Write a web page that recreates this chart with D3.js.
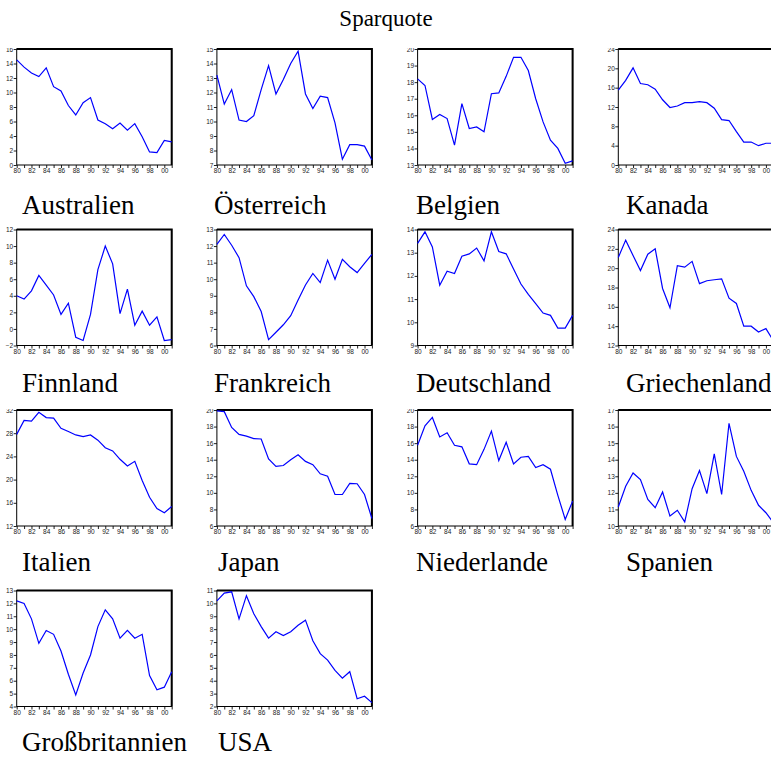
<!DOCTYPE html>
<html>
<head>
<meta charset="utf-8">
<script src="https://cdn.jsdelivr.net/npm/d3@7"></script>
<style>
  html, body { margin: 0; padding: 0; background: #fff; }
  svg { display: block; }
</style>
</head>
<body>
<svg id="chart" width="771" height="757"></svg>
<script>
// Savings ratio (Sparquote) 1980–2001, one small panel per country
const years = d3.range(1980, 2002);

const countries = ["Australien", "Österreich", "Belgien", "Kanada",
  "Finnland", "Frankreich", "Deutschland", "Griechenland",
  "Italien", "Japan", "Niederlande", "Spanien",
  "Großbritannien", "USA"];

const australien = [14.5, 13.5, 12.7, 12.2, 13.4, 10.8, 10.2, 8.2, 6.9, 8.6, 9.3, 6.2, 5.7, 5.0, 5.8, 4.8, 5.7, 3.9, 1.8, 1.7, 3.4, 3.2];
const oesterreich = [13.2, 11.2, 12.2, 10.1, 10.0, 10.4, 12.2, 13.85, 11.9, 12.9, 14.0, 14.85, 11.9, 10.9, 11.75, 11.65, 9.9, 7.4, 8.4, 8.4, 8.3, 7.35];
const belgien = [18.2, 17.8, 15.75, 16.05, 15.8, 14.2, 16.7, 15.2, 15.3, 15.0, 17.3, 17.35, 18.35, 19.5, 19.5, 18.7, 17.0, 15.6, 14.5, 14.0, 13.1, 13.25];
const kanada = [15.5, 17.5, 20.1, 16.85, 16.6, 15.7, 13.5, 11.9, 12.2, 12.9, 12.9, 13.1, 12.9, 11.75, 9.4, 9.2, 6.9, 4.75, 4.75, 4.0, 4.5, 4.5];
const finnland = [4.0, 3.6, 4.6, 6.45, 5.3, 4.1, 1.75, 3.1, -1.0, -1.4, 1.75, 7.15, 10.0, 7.85, 1.85, 4.8, 0.45, 2.15, 0.45, 1.45, -1.4, -1.3];
const frankreich = [12.1, 12.7, 12.05, 11.3, 9.6, 8.95, 8.05, 6.35, 6.8, 7.25, 7.8, 8.75, 9.65, 10.35, 9.8, 11.15, 10.0, 11.2, 10.75, 10.4, 10.95, 11.5];
const deutschland = [13.4, 13.9, 13.25, 11.6, 12.2, 12.1, 12.85, 12.95, 13.2, 12.65, 13.9, 13.05, 12.95, 12.3, 11.65, 11.2, 10.8, 10.4, 10.3, 9.75, 9.75, 10.3];
const griechenland = [21.1, 22.9, 21.3, 19.75, 21.45, 22.0, 17.9, 15.9, 20.25, 20.1, 20.7, 18.4, 18.7, 18.8, 18.9, 16.9, 16.35, 14.0, 14.0, 13.4, 13.75, 12.5];
const italien = [27.8, 30.2, 30.1, 31.6, 30.7, 30.6, 28.85, 28.3, 27.7, 27.4, 27.7, 26.8, 25.5, 24.95, 23.5, 22.35, 23.15, 19.85, 16.95, 15.0, 14.3, 15.35];
const japan = [19.9, 19.8, 17.9, 17.05, 16.85, 16.55, 16.5, 14.1, 13.2, 13.3, 14.0, 14.6, 13.8, 13.4, 12.3, 12.0, 9.8, 9.8, 11.15, 11.1, 9.8, 6.9];
const niederlande = [15.75, 18.1, 19.1, 16.75, 17.25, 15.75, 15.55, 13.5, 13.4, 15.25, 17.45, 13.9, 16.1, 13.5, 14.3, 14.4, 13.05, 13.4, 12.85, 9.7, 6.8, 9.0];
const spanien = [11.15, 12.4, 13.2, 12.8, 11.6, 11.1, 12.05, 10.6, 10.95, 10.25, 12.25, 13.35, 11.95, 14.35, 11.9, 16.2, 14.2, 13.3, 12.15, 11.25, 10.8, 10.2];
const grossbritannien = [12.2, 12.0, 10.8, 8.9, 9.9, 9.6, 8.3, 6.5, 4.9, 6.6, 8.0, 10.2, 11.5, 10.8, 9.3, 9.9, 9.3, 9.6, 6.4, 5.3, 5.5, 6.7];
const usa = [10.2, 10.8, 10.9, 8.8, 10.6, 9.2, 8.2, 7.3, 7.8, 7.5, 7.8, 8.3, 8.7, 7.1, 6.1, 5.6, 4.8, 4.2, 4.7, 2.6, 2.8, 2.3];

const seriesValues = [australien, oesterreich, belgien, kanada, finnland, frankreich,
  deutschland, griechenland, italien, japan, niederlande, spanien, grossbritannien, usa];

// y-axis tick labels per panel: [min, max, step]
const yTicks = [
  [0, 16, 2], [7, 15, 1], [13, 20, 1], [0, 24, 4],
  [-2, 12, 2], [6, 13, 1], [9, 14, 1], [12, 24, 2],
  [12, 32, 4], [6, 20, 2], [6, 20, 2], [10, 17, 1],
  [4, 13, 1], [2, 11, 1]
];

// layout
const colX = [16.7, 216.9, 417.6, 618.3];
const rowY = [49, 229.5, 410, 590.5];
const labelX = [[22, 214, 416, 626], [22, 214, 416, 626], [22, 218, 416, 626], [22, 218, 416, 626]];
const labelBaseline = [214, 392, 571, 751];
const plotW = 155, plotH = 116;
const clipTop = [1, 8, 1, 6];

const svg = d3.select("#chart");

svg.append("text")
  .attr("x", 386).attr("y", 26)
  .attr("text-anchor", "middle")
  .attr("font-family", "Liberation Serif, Times New Roman, serif")
  .attr("font-size", 23)
  .text("Sparquote");

const defs = svg.append("defs");

countries.forEach((name, i) => {
  const col = i % 4, row = Math.floor(i / 4);
  const x0 = colX[col], y0 = rowY[row];
  const [ymin, ymax, ystep] = yTicks[i];

  const x = d3.scaleLinear().domain([1980, 2001]).range([0, plotW]);
  const y = d3.scaleLinear().domain([ymin, ymax]).range([plotH, 0]);

  defs.append("clipPath").attr("id", "clip" + i)
    .append("rect")
    .attr("x", -30).attr("y", -clipTop[row])
    .attr("width", plotW + 60).attr("height", plotH + clipTop[row] + 30);

  const g = svg.append("g")
    .attr("transform", `translate(${x0},${y0})`);
  const inner = g.append("g").attr("clip-path", `url(#clip${i})`);

  // y axis
  const yAxis = d3.axisLeft(y)
    .tickValues(d3.range(ymin, ymax + ystep / 2, ystep))
    .tickSize(3)
    .tickFormat(d3.format("d"));
  inner.append("g").call(yAxis)
    .call(a => a.select(".domain").remove())
    .call(a => a.selectAll("text")
      .attr("font-family", "Liberation Sans, Arial, sans-serif")
      .attr("font-size", 6.5)
      .attr("fill", "#222")
      .attr("x", -3.5))
    .call(a => a.selectAll("line").attr("stroke", "#222"));

  // x axis
  const xAxis = d3.axisBottom(x)
    .tickValues(years)
    .tickSize(3)
    .tickFormat(d => d % 2 === 0 ? d3.format("02d")(d % 100) : "");
  inner.append("g").attr("transform", `translate(0,${plotH})`).call(xAxis)
    .call(a => a.select(".domain").remove())
    .call(a => a.selectAll("text")
      .attr("font-family", "Liberation Sans, Arial, sans-serif")
      .attr("font-size", 6.5)
      .attr("fill", "#222")
      .attr("y", 3.5))
    .call(a => a.selectAll("line").attr("stroke", "#222"));

  // frame
  inner.append("rect")
    .attr("x", 0).attr("y", 0).attr("width", plotW).attr("height", plotH)
    .attr("fill", "none").attr("stroke", "#000").attr("stroke-width", 1);
  inner.append("path")
    .attr("d", `M0,0H${plotW}V${plotH}`)
    .attr("fill", "none").attr("stroke", "#000").attr("stroke-width", 2);

  // series line
  const line = d3.line()
    .x((d, k) => x(years[k]))
    .y(d => y(d));
  inner.append("path")
    .datum(seriesValues[i])
    .attr("d", line)
    .attr("fill", "none")
    .attr("stroke", "#0000ff")
    .attr("stroke-width", 1.2)
    .attr("stroke-linejoin", "miter");

  // country label
  svg.append("text")
    .attr("x", labelX[row][col])
    .attr("y", labelBaseline[row])
    .attr("font-family", "Liberation Serif, Times New Roman, serif")
    .attr("font-size", 27)
    .text(name);
});
</script>
</body>
</html>
